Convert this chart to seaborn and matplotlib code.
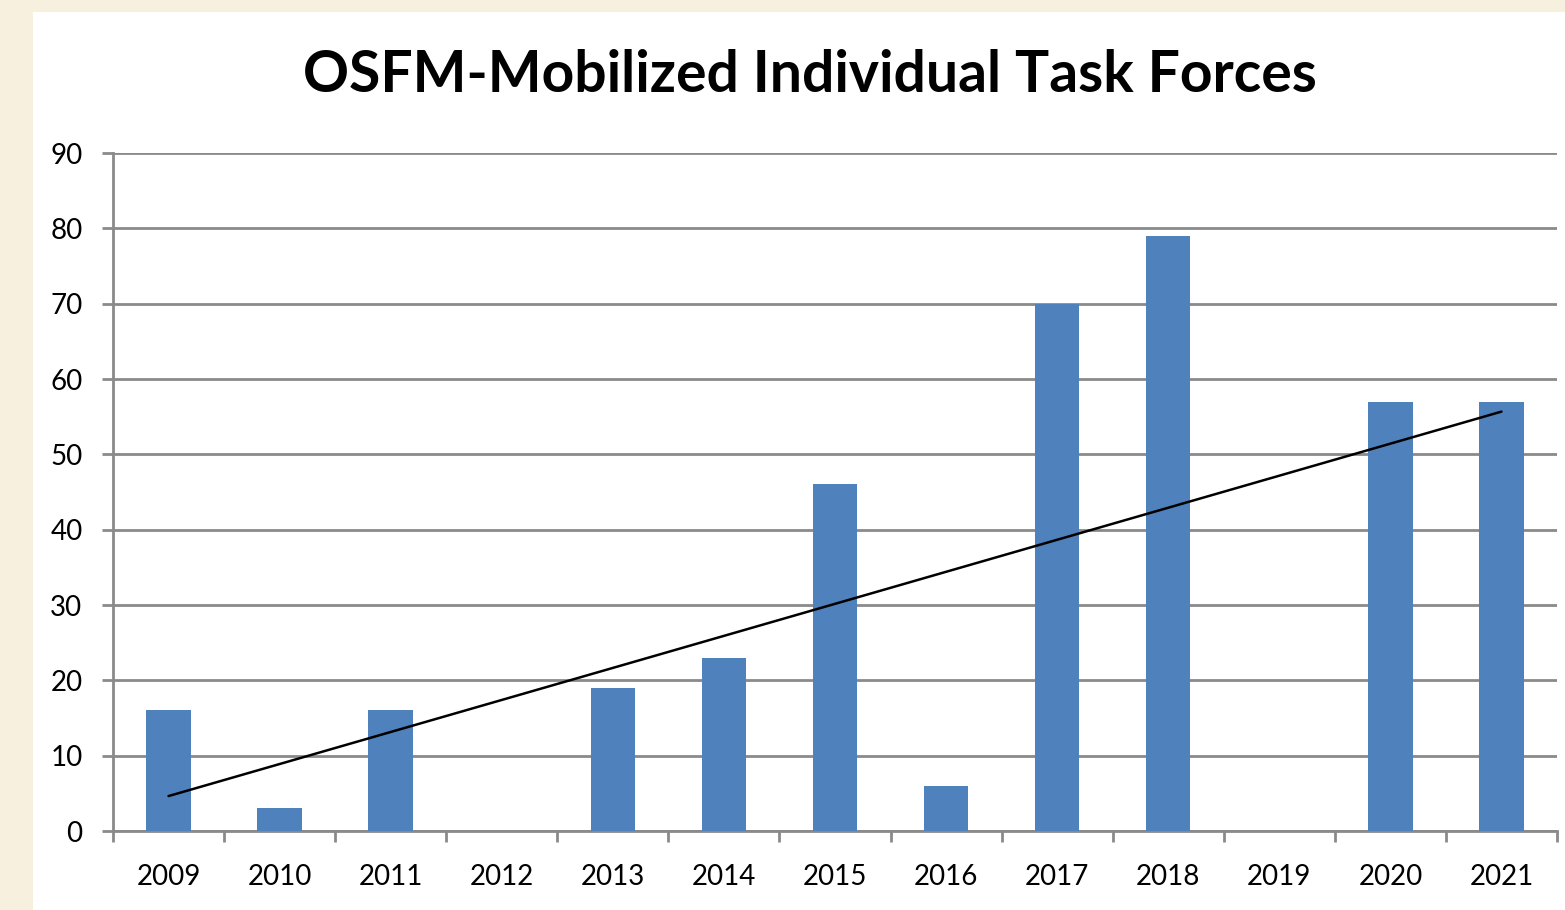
import numpy as np
import pandas as pd
import seaborn as sns
import matplotlib.pyplot as plt
from matplotlib.patches import Rectangle
from matplotlib.ticker import FixedLocator

years = ["2009", "2010", "2011", "2012", "2013", "2014", "2015",
         "2016", "2017", "2018", "2019", "2020", "2021"]
task_forces = [16, 3, 16, 0, 19, 23, 46, 6, 70, 79, 0, 57, 57]
y_ticks = [0, 10, 20, 30, 40, 50, 60, 70, 80, 90]

df = pd.DataFrame({"year": years, "count": task_forces})

sns.set_style("white")
plt.rcParams["font.family"] = ["Lato", "DejaVu Sans"]

grid_col = "#8a8a8a"
bar_col = "#4f81bd"

fig = plt.figure(figsize=(15.65, 9.10), dpi=100, facecolor="#f7f0df")
# white chart panel (beige strip left and top)
fig.patches.append(Rectangle((33 / 1565, 0), 1, (910 - 12) / 910,
                             transform=fig.transFigure, facecolor="white",
                             edgecolor="none", zorder=-10))

ax = fig.add_axes([113 / 1565, 1 - 831 / 910, (1557 - 113) / 1565, (831 - 153) / 910])
ax.set_facecolor("none")

sns.barplot(data=df, x="year", y="count", color=bar_col, width=0.4,
            saturation=1, linewidth=0, ax=ax, zorder=3)

# linear trend line
xs = np.arange(len(years))
slope, intercept = np.polyfit(xs, task_forces, 1)
ax.plot(xs, slope * xs + intercept, color="black", lw=1.8, zorder=4)

ax.set_xlim(-0.5, len(years) - 0.5)
ax.set_ylim(0, 90)
ax.set_yticks(y_ticks)
ax.yaxis.grid(True, color=grid_col, lw=2)
ax.set_axisbelow(True)

for s in ["top", "right"]:
    ax.spines[s].set_visible(False)
for s in ["left", "bottom"]:
    ax.spines[s].set_color(grid_col)
    ax.spines[s].set_linewidth(2)

ax.xaxis.set_minor_locator(FixedLocator(np.arange(-0.5, len(years), 1)))
ax.tick_params(axis="x", which="major", length=0, pad=24, labelsize=20,
               labelcolor="black")
ax.tick_params(axis="x", which="minor", length=8, width=2, color=grid_col,
               direction="out", bottom=True)
ax.tick_params(axis="y", length=8, width=2, color=grid_col, direction="out",
               pad=14, labelsize=20, left=True, labelcolor="black")

ax.set_xlabel("")
ax.set_ylabel("")

fig.text(810 / 1565, 1 - 75 / 910, "OSFM-Mobilized Individual Task Forces",
         ha="center", va="center", fontsize=41, fontweight="bold", color="black")

fig.savefig("out.png", dpi=100, facecolor=fig.get_facecolor())
